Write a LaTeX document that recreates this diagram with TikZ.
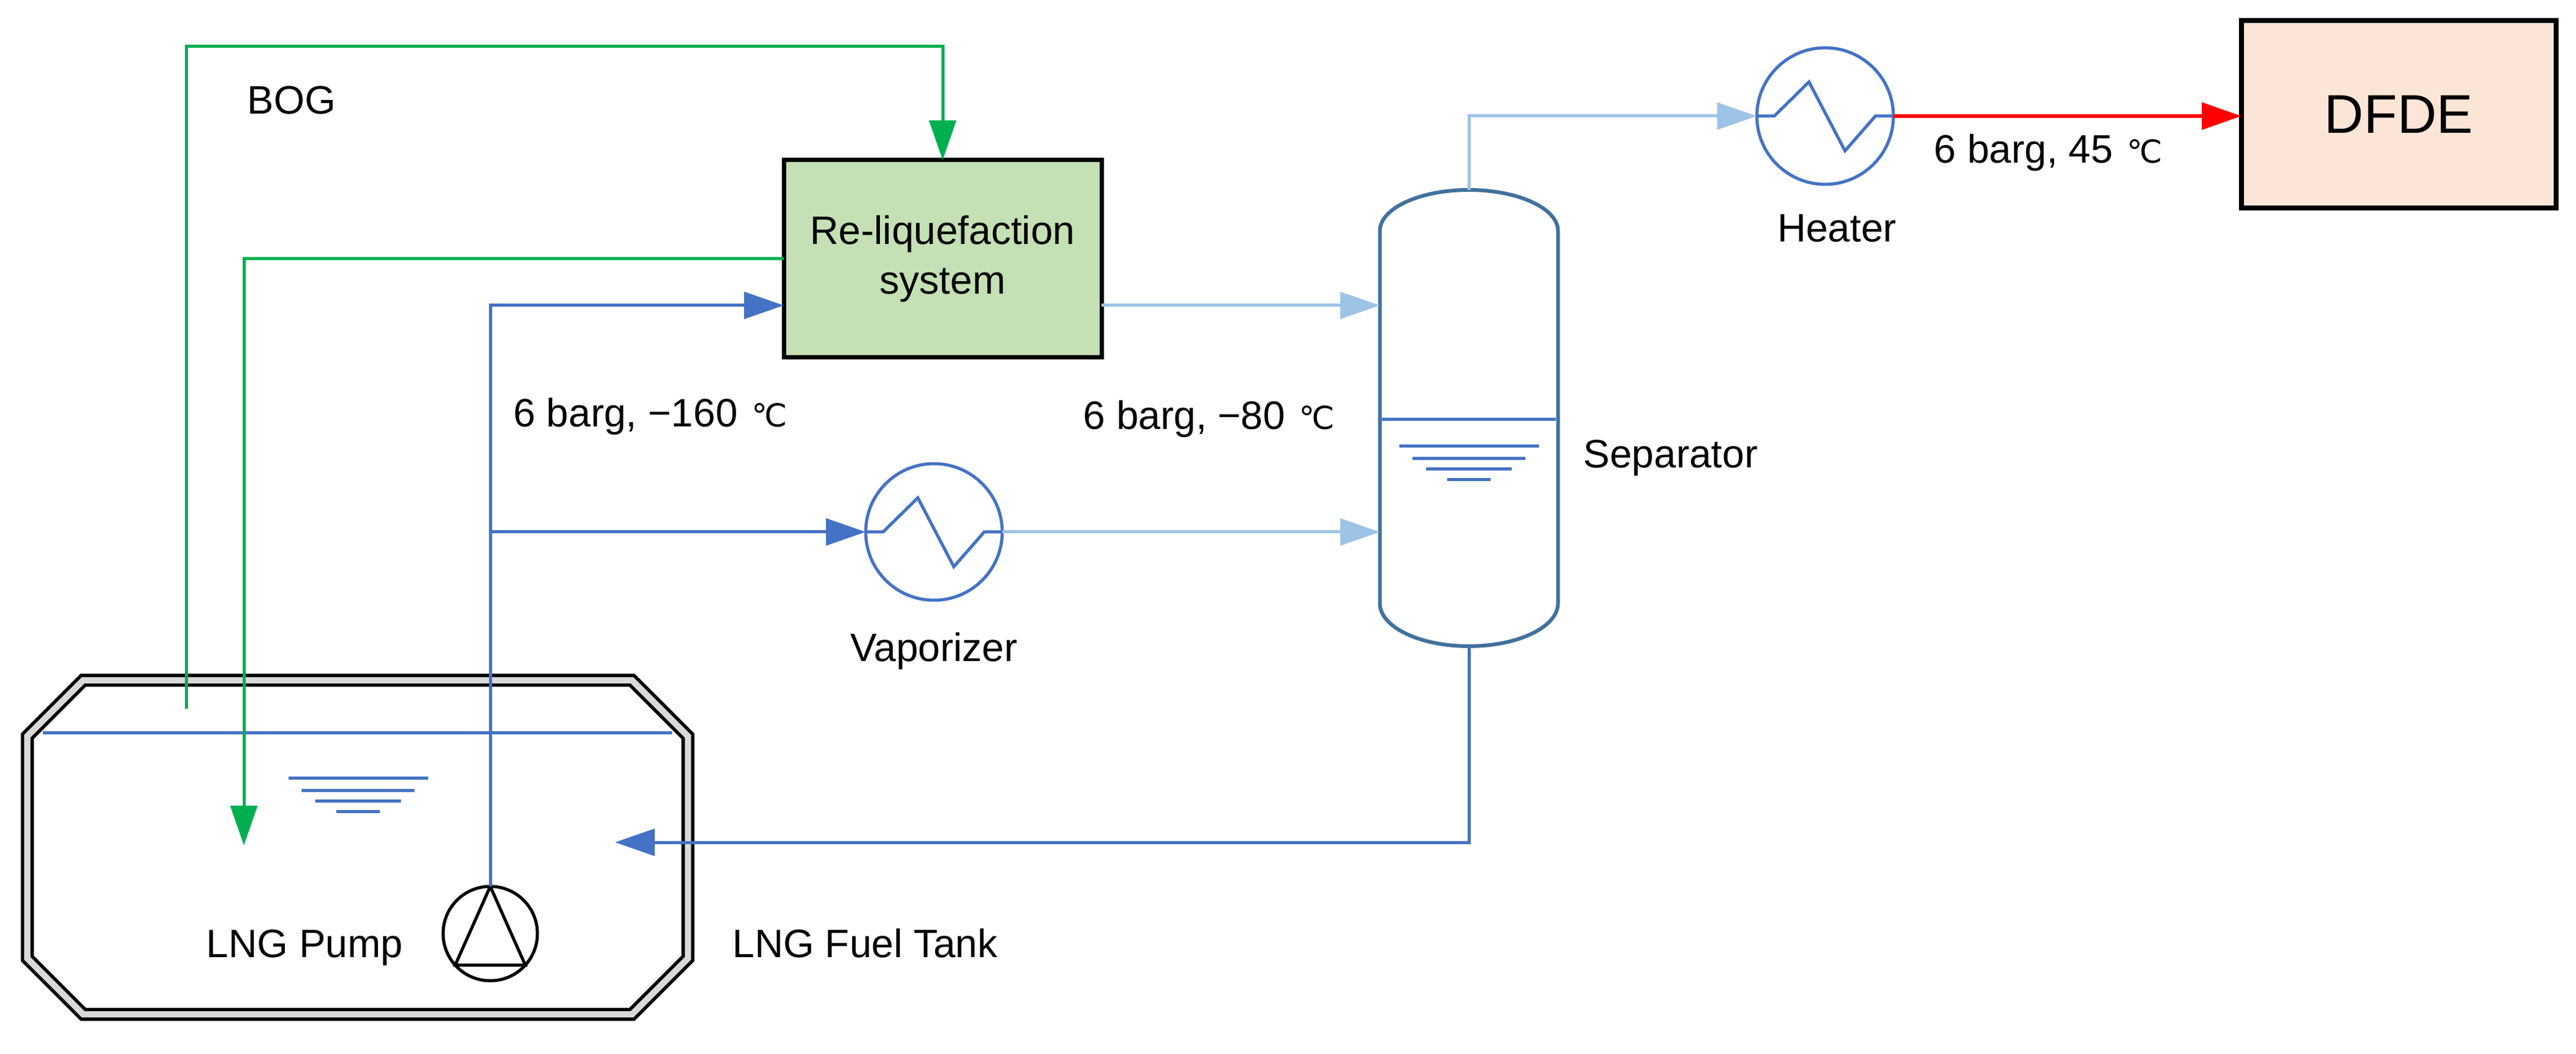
\documentclass[tikz,border=0pt]{standalone}
\usepackage{fontspec}
\setmainfont{Liberation Sans}
\newfontfamily\celfont{DejaVu Sans}
\usepackage{tikz}
\usetikzlibrary{positioning}
\usetikzlibrary{arrows.meta}
\usetikzlibrary{calc}
\usepackage{xcolor}
\definecolor{pipeblue}{HTML}{4472C4}
\definecolor{lightpipe}{HTML}{9DC3E6}
\definecolor{boggreen}{HTML}{00B050}
\definecolor{vesselblue}{HTML}{41719C}
\definecolor{liqfill}{HTML}{C5E0B4}
\definecolor{dfdefill}{HTML}{FBE5D6}
\definecolor{tankgray}{HTML}{D9D9D9}
\newcommand{\degsign}{\hspace{0.05cm}{\celfont\fontsize{14.5}{14.5}\selectfont ℃}}

\begin{document}
\begin{tikzpicture}[
  lbl/.style={font=\fontsize{18.2}{22.5}\selectfont, inner sep=0},
  unit/.style={draw=black, line width=0.07cm, inner sep=0, outer sep=0, align=center, font=\fontsize{18.2}{22.5}\selectfont},
  hx/.style={circle, draw=pipeblue, line width=0.05cm, minimum size=2.2cm, inner sep=0, outer sep=0},
  flow/.style={line width=0.05cm, -{Triangle[length=0.64cm,width=0.43cm]}},
  tankwall/.style={draw=black, line width=0.055cm, double=tankgray, double distance=0.1cm},
  vessel/.style={draw=vesselblue, line width=0.06cm}]
\useasboundingbox (0,0) rectangle (41.51,16.97);

\node[unit, fill=liqfill, minimum width=5.12cm, minimum height=3.18cm] (rls) at (15.19,12.80) {Re-liquefaction\\system};
\node[unit, fill=dfdefill, minimum width=5.07cm, minimum height=3.02cm, line width=0.08cm, font=\fontsize{25}{25}\selectfont] (dfde) at (38.655,15.13) {DFDE};
\node[hx] (vap) at (15.05,8.40) {};
\node[hx] (heat) at (29.41,15.10) {};
\node[circle, draw, line width=0.05cm, minimum size=1.52cm, inner sep=0, outer sep=0] (pump) at (7.90,1.93) {};
\draw[line width=0.05cm] (pump.north) -- (pump.222) -- (pump.318) -- cycle;
\foreach \n in {vap,heat}
  \draw[pipeblue, line width=0.05cm] (\n.west) -- ++(0.28,0) -- ++(0.56,0.55) -- ++(0.58,-1.11) -- ++(0.49,0.56) -- (\n.east);

\draw[tankwall] (0.44,5.11) -- (1.34,6.01) -- (10.185,6.01) -- (11.085,5.11) -- (11.085,1.53) -- (10.185,0.63) -- (1.34,0.63) -- (0.44,1.53) -- cycle;
\draw[pipeblue, line width=0.05cm] (0.69,5.16) -- (10.83,5.16);

\draw[vessel] (22.235,13.25) -- (22.235,7.25) arc[start angle=180,end angle=360,x radius=1.435cm,y radius=0.69cm] -- (25.105,13.25) arc[start angle=0,end angle=180,x radius=1.435cm,y radius=0.66cm] -- cycle;
\draw[pipeblue, line width=0.05cm] (22.27,10.21) -- (25.07,10.21);
\coordinate (sepN) at (23.67,13.91);
\coordinate (sepS) at (23.67,6.56);
\coordinate (sepW1) at (22.235,12.05);
\coordinate (sepW2) at (22.235,8.40);

\coordinate (tankmark) at (5.77,4.43);
\coordinate (sepmark) at (23.67,9.78);
\foreach \m in {tankmark,sepmark}
  \foreach \w/\d in {2.25/0, 1.82/0.2, 1.38/0.365, 0.70/0.535}
    \draw[pipeblue, line width=0.05cm] ($(\m)+(-\w/2,-\d)$) -- ++(\w,0);

\coordinate (bogout) at (3.00,5.55);
\coordinate (liqin) at (3.93,3.35);
\coordinate (tankin) at (9.91,3.40);
\draw[flow, boggreen] (bogout) -- (3.00,16.22) -| (rls.north);
\draw[flow, boggreen] (rls.west) -| (liqin);
\draw[flow, pipeblue] (pump.north) |- (rls.west |- sepW1);
\draw[flow, pipeblue] (pump.north |- vap) -- (vap.west);
\draw[flow, lightpipe] (rls.east |- sepW1) -- (sepW1);
\draw[flow, lightpipe] (vap.east) -- (sepW2);
\draw[flow, lightpipe] (sepN) |- (heat.west);
\draw[flow, red, line width=0.06cm] (heat.east) -- (heat.east -| dfde.west);
\draw[flow, pipeblue] (sepS) |- (tankin);

\node[lbl, anchor=base west] (boglbl) at (3.98,15.13) {BOG};
\node[lbl, anchor=base west] (t160) at (8.27,10.09) {6 barg, −160 \degsign};
\node[lbl, anchor=base west] (t80) at (17.45,10.05) {6 barg, −80 \degsign};
\node[lbl, anchor=base west] (t45) at (31.16,14.34) {6 barg, 45 \degsign};
\node[lbl, anchor=base west] (seplbl) at (25.51,9.43) {Separator};
\node[lbl, below=0.51cm of vap] (vaplbl) {Vaporizer};
\node[lbl, below=0.48cm of heat, xshift=0.19cm] (heatlbl) {Heater};
\node[lbl, anchor=base east] (pumplbl) at (6.50,1.55) {LNG Pump};
\node[lbl, anchor=base west] (tanklbl) at (11.80,1.55) {LNG Fuel Tank};
\end{tikzpicture}
\end{document}
